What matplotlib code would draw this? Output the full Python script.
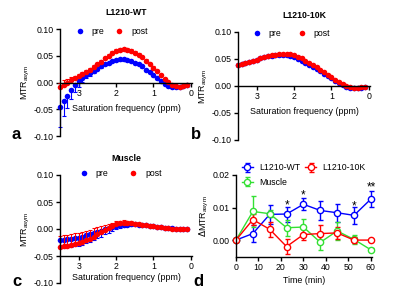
import numpy as np
import matplotlib
matplotlib.use('Agg')
import matplotlib.pyplot as plt

plt.rcParams['font.family'] = ['Liberation Sans', 'DejaVu Sans']
plt.rcParams['axes.unicode_minus'] = False
plt.rcParams['font.size'] = 6.3

BLUE = '#0000FF'
RED = '#FF0000'
GREEN = '#33E033'

# saturation offsets (ppm)
ppm = [3.5, 3.4, 3.3, 3.2, 3.1, 3.0, 2.9, 2.8, 2.7, 2.6, 2.5, 2.4, 2.3, 2.2, 2.1, 2.0, 1.9, 1.8,
       1.7, 1.6, 1.5, 1.4, 1.3, 1.2, 1.1, 1.0, 0.9, 0.8, 0.7, 0.6, 0.5, 0.4, 0.3, 0.2, 0.1]

# panel a: L1210-WT
wt_pre = [-0.046, -0.035, -0.025, -0.014, -0.005, 0.002, 0.009, 0.014, 0.018, 0.022, 0.026, 0.030,
          0.034, 0.037, 0.040, 0.042, 0.043, 0.043, 0.042, 0.040, 0.037, 0.034, 0.030, 0.024, 0.019,
          0.014, 0.008, 0.003, -0.002, -0.006, -0.008, -0.009, -0.009, -0.007, -0.004]
wt_pre_err = [0.037, 0.028, 0.022, 0.016, 0.012, 0.010, 0.008, 0.006, 0.005, 0.004, 0.003, 0.003,
              0.002, 0.002, 0.002, 0.002, 0.002, 0.002, 0.002, 0.002, 0.002, 0.002, 0.002, 0.002, 0.002,
              0.002, 0.002, 0.001, 0.001, 0.001, 0.001, 0.001, 0.001, 0.001, 0.001]
wt_post = [-0.008, -0.004, 0.000, 0.004, 0.008, 0.012, 0.016, 0.020, 0.024, 0.029, 0.034, 0.039,
           0.045, 0.050, 0.055, 0.059, 0.061, 0.062, 0.061, 0.059, 0.056, 0.052, 0.047, 0.041, 0.035,
           0.028, 0.021, 0.014, 0.007, 0.001, -0.004, -0.007, -0.008, -0.006, -0.004]
wt_post_err = [0.008, 0.008, 0.007, 0.006, 0.005, 0.004, 0.004, 0.003, 0.003, 0.003, 0.003, 0.003,
               0.003, 0.003, 0.003, 0.003, 0.003, 0.003, 0.003, 0.003, 0.003, 0.003, 0.003, 0.002, 0.002,
               0.002, 0.002, 0.002, 0.001, 0.001, 0.001, 0.001, 0.001, 0.001, 0.001]

# panel b: L1210-10K
k10_pre = [0.039, 0.041, 0.043, 0.045, 0.047, 0.049, 0.051, 0.053, 0.055, 0.056, 0.057, 0.058,
           0.058, 0.057, 0.055, 0.053, 0.050, 0.047, 0.043, 0.039, 0.035, 0.031, 0.027, 0.022, 0.018,
           0.014, 0.010, 0.006, 0.002, -0.001, -0.003, -0.004, -0.004, -0.003, -0.001]
k10_post = [0.039, 0.041, 0.043, 0.045, 0.047, 0.049, 0.051, 0.053, 0.055, 0.057, 0.058, 0.059,
            0.060, 0.060, 0.059, 0.057, 0.054, 0.051, 0.047, 0.043, 0.039, 0.035, 0.030, 0.026, 0.021,
            0.017, 0.012, 0.008, 0.004, 0.000, -0.002, -0.003, -0.003, -0.002, -0.001]

# panel c: Muscle
mu_pre = [-0.020, -0.020, -0.019, -0.018, -0.017, -0.016, -0.014, -0.012, -0.010, -0.008, -0.005, -0.003,
          0.000, 0.002, 0.004, 0.006, 0.007, 0.008, 0.008, 0.009, 0.009, 0.008, 0.008, 0.007, 0.006,
          0.005, 0.004, 0.003, 0.002, 0.001, 0.001, 0.000, 0.000, 0.000, 0.000]
mu_pre_err = [0.015, 0.015, 0.015, 0.015, 0.015, 0.015, 0.015, 0.014, 0.014, 0.013, 0.012, 0.011,
              0.010, 0.009, 0.008, 0.006, 0.005, 0.004, 0.003, 0.003, 0.002, 0.002, 0.002, 0.002, 0.001,
              0.001, 0.001, 0.001, 0.001, 0.001, 0.001, 0.001, 0.001, 0.001, 0.001]
mu_post = [-0.033, -0.032, -0.031, -0.030, -0.028, -0.026, -0.024, -0.021, -0.018, -0.014, -0.010, -0.006,
           -0.002, 0.002, 0.006, 0.009, 0.011, 0.012, 0.012, 0.011, 0.010, 0.009, 0.008, 0.007, 0.006,
           0.005, 0.004, 0.003, 0.002, 0.001, 0.000, 0.000, 0.000, 0.000, 0.000]
mu_post_err = [0.020, 0.020, 0.020, 0.020, 0.020, 0.019, 0.018, 0.017, 0.016, 0.015, 0.013, 0.011,
               0.009, 0.008, 0.006, 0.005, 0.004, 0.004, 0.003, 0.003, 0.003, 0.002, 0.002, 0.002, 0.002,
               0.001, 0.001, 0.001, 0.001, 0.001, 0.001, 0.001, 0.001, 0.001, 0.001]

# panel d: dMTRasym vs time
time = [0, 7.5, 15, 22.5, 30, 37.5, 45, 52.5, 60]
d_wt = [0.0, 0.0020, 0.0079, 0.0080, 0.0110, 0.0091, 0.0084, 0.0076, 0.0126]
d_wt_err = [0.0, 0.0025, 0.0030, 0.0023, 0.0018, 0.0030, 0.0027, 0.0027, 0.0025]
d_10k = [0.0, 0.0063, 0.0033, -0.0020, 0.0017, 0.0020, 0.0022, 0.0000, 0.0000]
d_10k_err = [0.0, 0.0017, 0.0022, 0.0022, 0.0017, 0.0025, 0.0018, 0.0010, 0.0]
d_mu = [0.0, 0.0088, 0.0081, 0.0038, 0.0040, -0.0007, 0.0028, 0.0002, -0.0030]
d_mu_err = [0.0, 0.0047, 0.0010, 0.0025, 0.0025, 0.0025, 0.0027, 0.0015, 0.0005]
star_t = [22.5, 30, 52.5, 60]
star_y = [0.0107, 0.0136, 0.0104, 0.0161]
star_txt = ['*', '*', '*', '**']

W, H = 400.0, 302.0
fig = plt.figure(figsize=(4.0, 3.02), dpi=100)


def px_rect(x0, y0, x1, y1):
    return [x0 / W, 1 - y1 / H, (x1 - x0) / W, (y1 - y0) / H]


def cest_panel(rect, title, pre, post, pre_err, post_err, xaxis_at, letter, letter_xy,
               leg_xy, colsp, xpad):
    ax = fig.add_axes(rect)
    zeros = np.zeros(len(ppm))
    if pre_err is not None:
        ax.errorbar(ppm, pre, yerr=[pre_err, zeros], fmt='none', ecolor=BLUE, elinewidth=0.8,
                    capsize=1.6, capthick=0.8, clip_on=False)
    ax.plot(ppm, pre, 'o', color=BLUE, ms=4.0, mec='none', clip_on=False, label='pre')
    if post_err is not None:
        ax.errorbar(ppm, post, yerr=[zeros, post_err], fmt='none', ecolor=RED, elinewidth=0.8,
                    capsize=1.6, capthick=0.8, clip_on=False)
    ax.plot(ppm, post, 'o', color=RED, ms=4.0, mec='none', clip_on=False, label='post')
    ax.set_xlim(3.5, -0.03)
    ax.set_ylim(-0.10, 0.10)
    ax.set_yticks([-0.10, -0.05, 0.00, 0.05, 0.10])
    ax.set_yticklabels(['-0.10', '-0.05', '0.00', '0.05', '0.10'])
    ax.set_xticks([3, 2, 1, 0])
    ax.spines['top'].set_visible(False)
    ax.spines['right'].set_visible(False)
    ax.spines['bottom'].set_position(('data', xaxis_at))
    for s in ['left', 'bottom']:
        ax.spines[s].set_linewidth(1.0)
    ax.tick_params(length=3, width=1.0, pad=1.5, labelsize=6.3)
    ax.set_xlabel('Saturation frequency (ppm)', fontsize=6.4, labelpad=xpad)
    ax.set_ylabel('MTR$_{\\mathregular{asym}}$', fontsize=6.4, labelpad=1.5)
    ax.set_title(title, fontsize=6.3, fontweight='bold', pad=10)
    ax.legend(loc='upper left', bbox_to_anchor=(leg_xy[0] / W, 1 - leg_xy[1] / H),
              bbox_transform=fig.transFigure, borderaxespad=0, ncol=2, frameon=False,
              fontsize=6.3, handletextpad=0.87, columnspacing=colsp, handlelength=1.0)
    fig.text(letter_xy[0] / W, 1 - letter_xy[1] / H, letter, fontsize=12, fontweight='bold',
             ha='center', va='center')
    return ax


cest_panel(px_rect(60, 29, 192, 136), 'L1210-WT', wt_pre, wt_post, wt_pre_err, wt_post_err, 0.0,
           'a', (16, 135), (72, 24), 1.14, 4.5)
cest_panel(px_rect(238, 32, 370, 140), 'L1210-10K', k10_pre, k10_post, None, None, 0.0,
           'b', (196, 135), (249, 25.5), 1.8, 4.5)
cest_panel(px_rect(60, 175, 192, 283), 'Muscle', mu_pre, mu_post, mu_pre_err, mu_post_err, -0.05,
           'c', (17, 282), (76, 166), 2.3, 1.5)

# panel d
ax = fig.add_axes(px_rect(236, 175, 372, 257))
series = [(d_wt, d_wt_err, BLUE, 'L1210-WT'), (d_mu, d_mu_err, GREEN, 'Muscle'),
          (d_10k, d_10k_err, RED, 'L1210-10K')]
for vals, err, c, lab in series:
    ax.errorbar(time, vals, yerr=err, color=c, lw=1.0, marker='o', ms=4.5, mfc='white', mec=c,
                mew=1.0, capsize=1.8, capthick=1.0, elinewidth=1.0, label=lab, clip_on=False)
for t, y, s in zip(star_t, star_y, star_txt):
    ax.text(t, y, s, ha='center', va='center', fontsize=8.5)
ax.set_xlim(0, 60.5)
ax.set_ylim(-0.0052, 0.02)
ax.set_xticks([0, 10, 20, 30, 40, 50, 60])
ax.set_yticks([0.00, 0.01, 0.02])
ax.set_yticklabels(['0.00', '0.01', '0.02'])
ax.spines['top'].set_visible(False)
ax.spines['right'].set_visible(False)
for s in ['left', 'bottom']:
    ax.spines[s].set_linewidth(1.0)
ax.tick_params(length=3, width=1.0, pad=1.5, labelsize=6.3)
ax.set_xlabel('Time (min)', fontsize=6.4, labelpad=3)
ax.set_ylabel('$\\Delta$MTR$_{\\mathregular{asym}}$', fontsize=6.4, labelpad=1.5)
h, l = ax.get_legend_handles_labels()
ax.legend(h, l, loc='upper left', bbox_to_anchor=(238.5 / W, 1 - 160 / H),
          bbox_transform=fig.transFigure, borderaxespad=0, ncol=2, frameon=False, fontsize=6.3,
          handletextpad=0.69, columnspacing=0.57, handlelength=1.25, labelspacing=0.6)
fig.text(198 / W, 1 - 282 / H, 'd', fontsize=12, fontweight='bold', ha='center', va='center')

fig.savefig('out.png', dpi=100)
